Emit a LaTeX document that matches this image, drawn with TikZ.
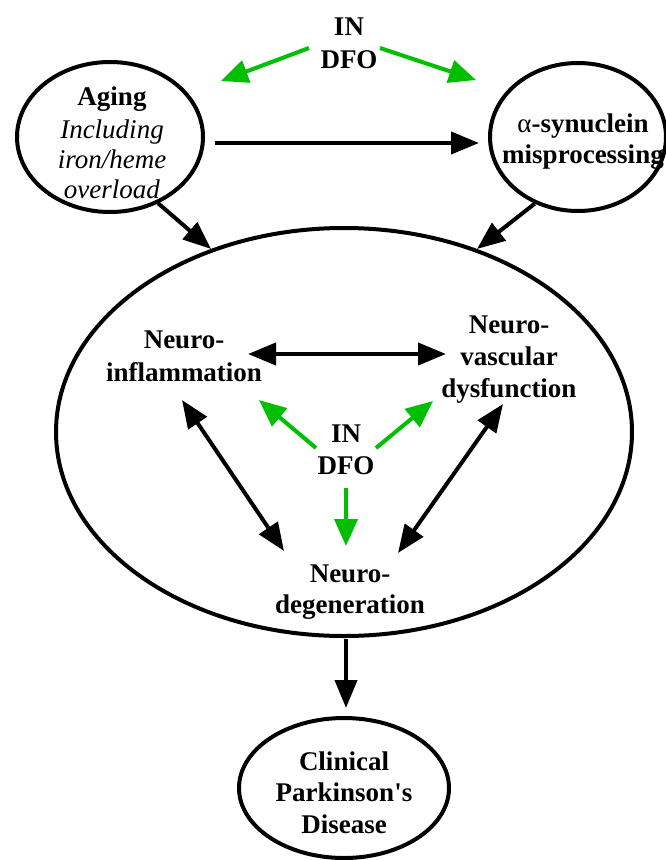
\documentclass[tikz,border=0pt]{standalone}
\usepackage{fontspec}
\setmainfont{Liberation Serif}
\usetikzlibrary{shapes.geometric,arrows.meta,calc}
\definecolor{ngreen}{RGB}{0,190,0}
\newcommand\ml[1]{\begin{tabular}[t]{@{}c@{}}#1\end{tabular}}
\begin{document}
\begin{tikzpicture}[x=1pt,y=-1pt,
  ell/.style={draw, ellipse, line width=4pt, inner sep=0pt},
  lbl/.style={anchor=base, inner sep=0pt},
  bf/.style={font=\fontsize{27}{#1}\selectfont\bfseries},
  blk/.style={line width=4pt, -{Triangle[length=28pt,width=22pt]}},
  dbl/.style={line width=4pt, {Triangle[length=28pt,width=22pt]}-{Triangle[length=28pt,width=22pt]}},
  grn/.style={color=ngreen, line width=4pt, -{Triangle[length=27pt,width=23pt]}}]
\useasboundingbox (0,0) rectangle (666,860);
% ellipses
\node[ell, minimum width=186pt, minimum height=150pt] (aging) at (110,137) {};
\node[ell, minimum width=176pt, minimum height=148pt] (syn) at (578,137) {};
\node[ell, minimum width=576pt, minimum height=408pt] (big) at (344,432) {};
\node[ell, minimum width=210pt, minimum height=140pt] (clin) at (344,788) {};
% texts
\node[lbl, font=\fontsize{27}{30}\selectfont] (agingtxt) at (112,105)
  {\ml{\textbf{Aging}\\[3pt] \textit{Including}\\ \textit{iron/heme}\\ \textit{overload}}};
\node[lbl, bf=31] (syntxt) at (583,132) {\ml{{\mdseries α}-synuclein\\ misprocessing}};
\node[lbl, bf=33] (dfoT) at (349,35) {\ml{IN\\ DFO}};
\node[lbl, bf=33] (ninf) at (184,348) {\ml{Neuro-\\ inflammation}};
\node[lbl, bf=32] (nvas) at (509,333) {\ml{Neuro-\\ vascular\\ dysfunction}};
\node[lbl, bf=32] (dfoM) at (346,442) {\ml{IN\\ DFO}};
\node[lbl, bf=31] (ndeg) at (350,582) {\ml{Neuro-\\ degeneration}};
\node[lbl, bf=31.5] (clintxt) at (344,770) {\ml{Clinical\\ Parkinson\textquotesingle s\\ Disease}};
% connectors
\draw[blk] ($(aging.center)+(105,6)$) -- ($(syn.center)+(-99,6)$);
\draw[blk] (aging.-54) -- (big.126);
\draw[blk] (syn.-123.5) -- (big.54);
\draw[grn] ($(dfoT.base)+(-40,13)$) -- ($(aging.center)+(111,-56)$);
\draw[grn] ($(dfoT.base)+(31,13)$) -- ($(syn.center)+(-102,-57)$);
\draw[dbl] ($(ninf.base)+(64,6)$) -- ($(nvas.base)+(-63,21)$);
\draw[dbl] ($(ninf.base)+(-2,52)$) -- ($(ndeg.base)+(-66,-31)$);
\draw[dbl] ($(nvas.base)+(-6,71)$) -- ($(ndeg.base)+(48,-29)$);
\draw[grn] ($(dfoM.base)+(-30,6)$) -- ($(ninf.base)+(75,52)$);
\draw[grn] ($(dfoM.base)+(30,6)$) -- ($(nvas.base)+(-76,68)$);
\draw[grn] ($(dfoM.base)+(0,46)$) -- ($(ndeg.base)+(-4,-36)$);
\draw[blk] ($(big.south)+(2,1)$) -- ($(clin.north)+(2,-8)$);
\end{tikzpicture}
\end{document}
